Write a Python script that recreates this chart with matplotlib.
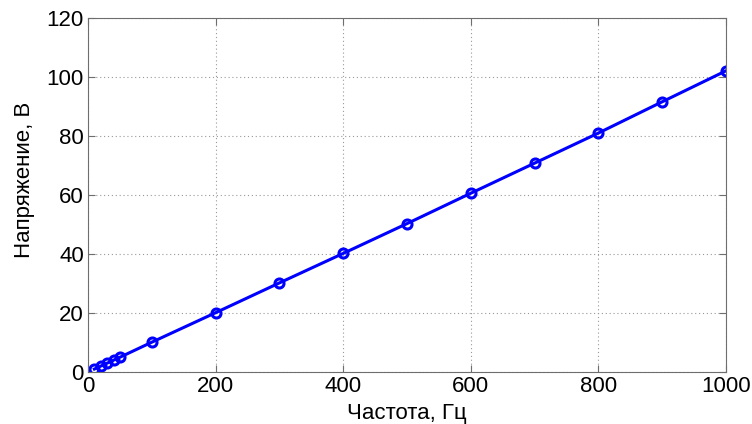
import matplotlib
matplotlib.use("Agg")
import matplotlib.pyplot as plt

# Measured data: frequency (Hz) vs voltage (V)
freq = [10, 20, 30, 40, 50, 100, 200, 300, 400, 500, 600, 700, 800, 900, 1000]
voltage = [1.0, 2.0, 3.0, 4.0, 5.0, 10.1, 20.1, 30.2, 40.2, 50.3, 60.6, 70.8, 81.0, 91.6, 102.1]

x_ticks = [0, 200, 400, 600, 800, 1000]
y_ticks = [0, 20, 40, 60, 80, 100, 120]

plt.rcParams["font.family"] = ["Liberation Sans", "DejaVu Sans"]

fig = plt.figure(figsize=(7.52, 4.24), dpi=100)
ax = fig.add_axes([88 / 752, 1 - 372 / 424, (726 - 88) / 752, (372 - 18) / 424])

ax.plot(freq, voltage, color="#0000ff", linewidth=2.2, marker="o",
        markersize=6.5, markerfacecolor="none", markeredgewidth=2.2)

ax.set_xlim(0, 1000)
ax.set_ylim(0, 120)
ax.set_xticks(x_ticks)
ax.set_yticks(y_ticks)
ax.grid(True, linestyle=(0, (1, 2.5)), color="#999999", linewidth=0.8)

for s in ax.spines.values():
    s.set_color("#6e6e6e")
ax.tick_params(direction="in", length=5, color="#6e6e6e", labelsize=16,
               top=True, right=True, pad=3)

ax.set_xlabel("Частота, Гц", fontsize=16)
ax.set_ylabel("Напряжение, В", fontsize=16)
ax.xaxis.set_label_coords(0.5, -0.087)
ax.yaxis.set_label_coords(-0.083, 0.542)

fig.savefig("out.png", dpi=100)
